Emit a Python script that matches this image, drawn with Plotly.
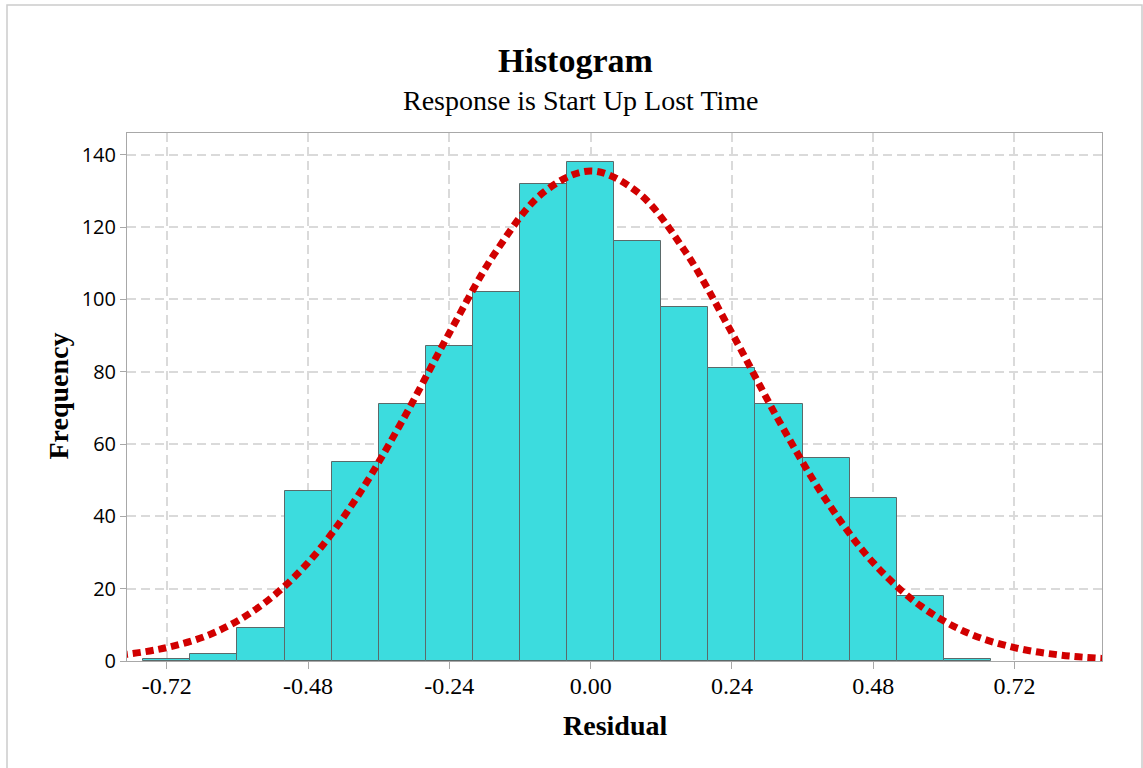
import plotly.graph_objects as go

# ---- data ----
bin_centers = [-0.72, -0.64, -0.56, -0.48, -0.40, -0.32, -0.24, -0.16, -0.08,
               0.00, 0.08, 0.16, 0.24, 0.32, 0.40, 0.48, 0.56, 0.64]
frequencies = [0.6, 2, 9, 47, 55, 71, 87, 102, 132,
               138, 116, 98, 81, 71, 56, 45, 18, 0.5]
bin_width = 0.08

# fitted normal curve
curve_x = [-0.80, -0.72, -0.64, -0.56, -0.48, -0.40, -0.32, -0.24, -0.16, -0.08,
           0.00, 0.08, 0.16, 0.24, 0.32, 0.40, 0.48, 0.56, 0.64, 0.72, 0.80, 0.88]
curve_y = [1.6, 3.7, 7.8, 15.3, 27.2, 44.5, 66.4, 90.7, 113.4, 129.6,
           135.5, 129.6, 113.4, 90.7, 66.4, 44.5, 27.2, 15.3, 7.8, 3.7, 1.6, 0.62]

x_ticks = [-0.72, -0.48, -0.24, 0.00, 0.24, 0.48, 0.72]
x_tick_text = ["-0.72", "-0.48", "-0.24", "0.00", "0.24", "0.48", "0.72"]
y_ticks = [0, 20, 40, 60, 80, 100, 120, 140]

title_text = "Histogram"
subtitle_text = "Response is Start Up Lost Time"
x_title = "Residual"
y_title = "Frequency"

SERIF = "Liberation Serif, Times New Roman, serif"
SANS = "Open Sans, Noto Sans, sans-serif"

fig = go.Figure()
fig.add_trace(go.Bar(
    x=bin_centers, y=frequencies, width=bin_width,
    marker=dict(color="#3CDCDE", line=dict(color="#5A6A6A", width=1)),
    showlegend=False, hoverinfo="skip",
))
fig.add_trace(go.Scatter(
    x=curve_x, y=curve_y, mode="lines",
    line=dict(color="#D10000", width=7, dash="8px,5px", shape="spline"),
    showlegend=False, hoverinfo="skip",
))

L, R, T, B = 127, 1102, 133, 661
W, H = 1143, 768

def px_x(px):
    return (px - L) / (R - L)

def px_y(py):
    return (B - py) / (B - T)

fig.update_layout(
    width=W, height=H,
    margin=dict(l=L, r=W - R, t=T, b=H - B, pad=0),
    paper_bgcolor="white", plot_bgcolor="white",
    bargap=0,
    xaxis=dict(
        range=[-0.7876, 0.8687],
        tickvals=x_ticks, ticktext=x_tick_text,
        showgrid=True, gridcolor="#DADADA", gridwidth=1.5, griddash="9px,5px",
        zeroline=False,
        showline=True, linecolor="#A8A8A8", linewidth=1, mirror=True,
        ticks="outside", ticklen=7, tickcolor="#A8A8A8", tickwidth=1,
        ticklabelstandoff=-4,
        tickfont=dict(family=SERIF, size=24, color="black"),
    ),
    yaxis=dict(
        range=[0, 146],
        tickvals=y_ticks,
        showgrid=True, gridcolor="#DADADA", gridwidth=1.5, griddash="9px,5px",
        zeroline=False,
        showline=True, linecolor="#A8A8A8", linewidth=1, mirror=True,
        ticks="outside", ticklen=6, tickcolor="#A8A8A8", tickwidth=1,
        tickfont=dict(family=SANS, size=20, color="black"),
    ),
    shapes=[dict(
        type="rect", xref="paper", yref="paper",
        x0=px_x(7), x1=px_x(1142), y0=px_y(775), y1=px_y(5),
        line=dict(color="#CCCCCC", width=1.5), fillcolor="rgba(0,0,0,0)",
        layer="below",
    )],
    annotations=[
        dict(text="<b>" + title_text + "</b>", xref="paper", yref="paper",
             x=px_x(575), y=px_y(60.5), xanchor="center", yanchor="middle",
             showarrow=False, font=dict(family=SERIF, size=34, color="black")),
        dict(text=subtitle_text, xref="paper", yref="paper",
             x=px_x(580), y=px_y(100.5), xanchor="center", yanchor="middle",
             showarrow=False, font=dict(family=SERIF, size=28, color="black")),
        dict(text="<b>" + x_title + "</b>", xref="paper", yref="paper",
             x=0.5, y=px_y(725), xanchor="center", yanchor="middle",
             showarrow=False, font=dict(family=SERIF, size=28, color="black")),
        dict(text="<b>" + y_title + "</b>", xref="paper", yref="paper",
             x=px_x(57.5), y=px_y(396), xanchor="center", yanchor="middle",
             textangle=-90,
             showarrow=False, font=dict(family=SERIF, size=28, color="black")),
    ],
)

fig.write_html("out.html")
